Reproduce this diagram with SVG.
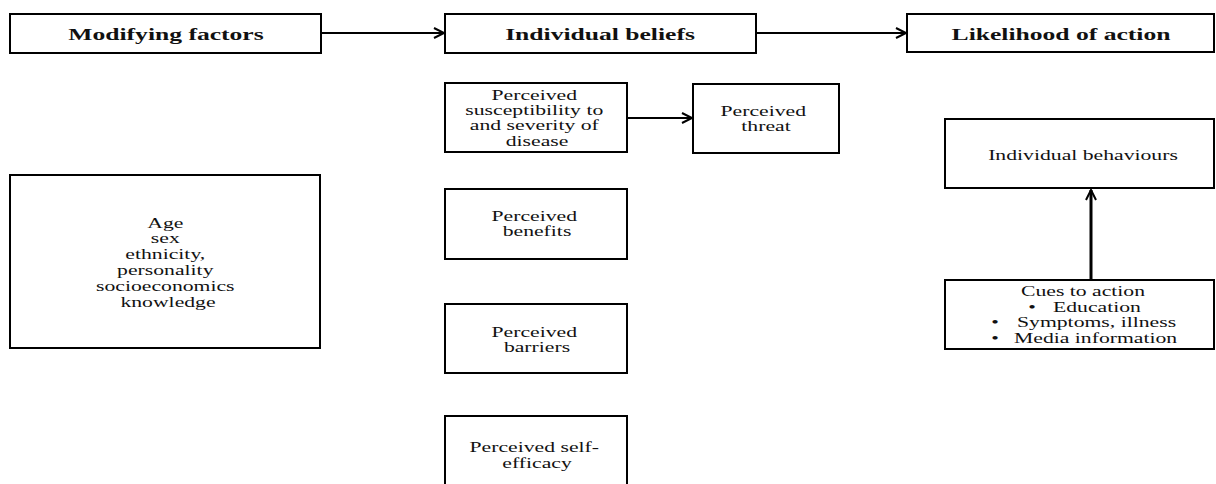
<svg xmlns="http://www.w3.org/2000/svg" width="1216" height="484" viewBox="0 0 1216 484">
  <defs>
    <marker id="chev" markerUnits="userSpaceOnUse" markerWidth="14" markerHeight="14" refX="11" refY="6" orient="auto">
      <path d="M1,1 L11,6 L1,11" fill="none" stroke="#000" stroke-width="2"/>
    </marker>
    <style>
      rect.box { fill: #fff; stroke: #000; stroke-width: 2; }
      text { font-family: "Liberation Serif", "Times New Roman", serif; fill: #111; }
      text.head { font-size: 16px; font-weight: bold; }
      text.body { font-size: 14px; }
      .link { fill: none; stroke: #000; stroke-width: 2; marker-end: url(#chev); }
    </style>
  </defs>
  <rect width="1216" height="484" fill="#fff"/>

  <!-- header row -->
  <g id="modifying-factors">
    <rect class="box" x="10" y="14" width="311" height="39"/>
    <text class="head" text-anchor="middle" transform="translate(166,40) scale(1.6,1)">Modifying factors</text>
  </g>
  <g id="individual-beliefs">
    <rect class="box" x="445" y="14" width="311" height="39"/>
    <text class="head" text-anchor="middle" transform="translate(600,40) scale(1.6,1)">Individual beliefs</text>
  </g>
  <g id="likelihood-of-action">
    <rect class="box" x="907" y="14" width="307" height="38"/>
    <text class="head" text-anchor="middle" transform="translate(1061,40) scale(1.6,1)">Likelihood of action</text>
  </g>

  <!-- modifying factors detail -->
  <g id="demographics">
    <rect class="box" x="10" y="175" width="310" height="173"/>
    <text class="body" text-anchor="middle" transform="translate(168,0) scale(1.55,1)">
      <tspan x="0" y="228">Age</tspan>
      <tspan x="0" y="243">sex</tspan>
      <tspan x="0" y="259">ethnicity,</tspan>
      <tspan x="0" y="275">personality</tspan>
      <tspan x="0" y="291">socioeconomics</tspan>
      <tspan x="0" y="307">knowledge</tspan>
    </text>
  </g>

  <!-- individual beliefs column -->
  <g id="susceptibility">
    <rect class="box" x="445" y="83" width="182" height="69"/>
    <text class="body" text-anchor="middle" transform="translate(537,0) scale(1.55,1)">
      <tspan x="0" y="100">Perceived</tspan>
      <tspan x="0" y="115">susceptibility to</tspan>
      <tspan x="0" y="130">and severity of</tspan>
      <tspan x="0" y="146">disease</tspan>
    </text>
  </g>
  <g id="threat">
    <rect class="box" x="693" y="84" width="146" height="69"/>
    <text class="body" text-anchor="middle" transform="translate(766,0) scale(1.55,1)">
      <tspan x="0" y="116">Perceived</tspan>
      <tspan x="0" y="131">threat</tspan>
    </text>
  </g>
  <g id="benefits">
    <rect class="box" x="445" y="189" width="182" height="70"/>
    <text class="body" text-anchor="middle" transform="translate(537,0) scale(1.55,1)">
      <tspan x="0" y="221">Perceived</tspan>
      <tspan x="0" y="236">benefits</tspan>
    </text>
  </g>
  <g id="barriers">
    <rect class="box" x="445" y="304" width="182" height="69"/>
    <text class="body" text-anchor="middle" transform="translate(537,0) scale(1.55,1)">
      <tspan x="0" y="337">Perceived</tspan>
      <tspan x="0" y="352">barriers</tspan>
    </text>
  </g>
  <g id="self-efficacy">
    <rect class="box" x="445" y="416" width="182" height="80"/>
    <text class="body" text-anchor="middle" transform="translate(537,0) scale(1.55,1)">
      <tspan x="0" y="452">Perceived self-</tspan>
      <tspan x="0" y="468">efficacy</tspan>
    </text>
  </g>

  <!-- likelihood of action column -->
  <g id="behaviours">
    <rect class="box" x="945" y="119" width="269" height="69"/>
    <text class="body" text-anchor="middle" transform="translate(1083,160) scale(1.55,1)">Individual behaviours</text>
  </g>
  <g id="cues">
    <rect class="box" x="945" y="280" width="269" height="69"/>
    <text class="body" text-anchor="middle" transform="translate(1083,296) scale(1.55,1)">Cues to action</text>
    <text class="body" text-anchor="middle" transform="translate(1032,312) scale(1.55,1)">•</text>
    <text class="body" transform="translate(1053,312) scale(1.55,1)">Education</text>
    <text class="body" text-anchor="middle" transform="translate(995,327) scale(1.55,1)">•</text>
    <text class="body" transform="translate(1017,327) scale(1.55,1)">Symptoms, illness</text>
    <text class="body" text-anchor="middle" transform="translate(995,343) scale(1.55,1)">•</text>
    <text class="body" transform="translate(1014,343) scale(1.55,1)">Media information</text>
  </g>

  <!-- connectors -->
  <g id="connectors">
    <line class="link" x1="322" y1="33" x2="444" y2="33"/>
    <line class="link" x1="757" y1="33" x2="906" y2="33"/>
    <line class="link" x1="628" y1="118" x2="692" y2="118"/>
    <line class="link" x1="1091" y1="279" x2="1091" y2="190" style="stroke-width:3"/>
  </g>
</svg>
